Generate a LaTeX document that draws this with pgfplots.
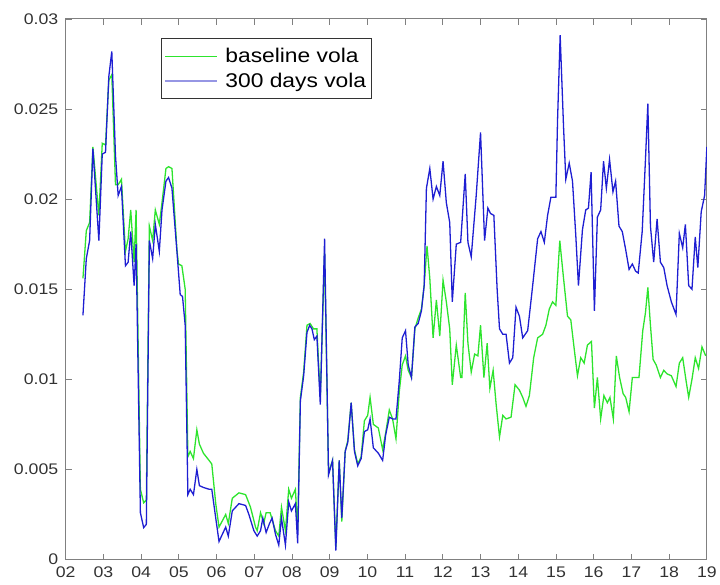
\documentclass[border=0pt]{standalone}
\usepackage{fontspec}
\setmainfont{Liberation Sans}[FakeStretch=1.15]
\usepackage{pgfplots}
\usepackage{pgfplotstable}
\pgfplotsset{compat=1.18}

\definecolor{volagreen}{RGB}{45,228,45}
\definecolor{volablue}{RGB}{30,30,210}
\definecolor{volabluelegend}{RGB}{150,150,228}
\definecolor{framegray}{RGB}{128,128,128}
\definecolor{labelgray}{RGB}{50,50,50}

% baseline volatility
\pgfplotstableread{
x y
2.457 0.0156
2.546 0.01825
2.634 0.0187
2.721 0.0229
2.879 0.0191
2.969 0.0231
3.056 0.0230
3.143 0.0266
3.222 0.0269
3.320 0.0208
3.391 0.0208
3.478 0.0211
3.584 0.0171
3.655 0.0178
3.724 0.0194
3.814 0.0165
3.866 0.0194
3.980 0.0039
4.067 0.00315
4.138 0.0033
4.218 0.0185
4.305 0.0177
4.376 0.0194
4.482 0.0186
4.553 0.0198
4.658 0.0217
4.727 0.0218
4.817 0.0217
4.949 0.0172
4.990 0.0164
5.080 0.0163
5.168 0.0150
5.239 0.0057
5.300 0.0060
5.387 0.0056
5.477 0.0072
5.545 0.0064
5.651 0.0059
5.801 0.0055
5.873 0.0053
5.978 0.0031
6.065 0.0018
6.242 0.0025
6.311 0.0020
6.417 0.0034
6.593 0.0037
6.770 0.0036
6.900 0.0029
7.033 0.0018
7.077 0.0016
7.166 0.0026
7.250 0.0020
7.314 0.0026
7.420 0.0026
7.562 0.0016
7.649 0.0013
7.721 0.0029
7.826 0.0016
7.913 0.0039
7.985 0.0034
8.090 0.0039
8.151 0.0016
8.222 0.0090
8.309 0.0104
8.397 0.0130
8.480 0.0131
8.570 0.0128
8.660 0.0128
8.750 0.0090
8.864 0.0170
8.969 0.0048
9.075 0.0055
9.162 0.0007
9.252 0.0055
9.320 0.0021
9.410 0.0060
9.479 0.0066
9.569 0.0087
9.656 0.0061
9.743 0.0053
9.833 0.0057
9.920 0.0077
10.007 0.0080
10.070 0.0090
10.157 0.0075
10.289 0.0073
10.403 0.0061
10.482 0.0070
10.580 0.0083
10.667 0.0078
10.757 0.0067
10.844 0.0093
10.923 0.0108
11.010 0.0113
11.081 0.0105
11.168 0.0101
11.258 0.0128
11.345 0.0134
11.432 0.0139
11.504 0.0152
11.580 0.0174
11.654 0.0156
11.741 0.0123
11.828 0.0144
11.918 0.0124
12.005 0.0155
12.092 0.0143
12.182 0.0128
12.250 0.0097
12.356 0.0119
12.472 0.0101
12.506 0.0101
12.593 0.0148
12.665 0.0120
12.752 0.0104
12.842 0.0114
12.929 0.0113
12.999 0.0130
13.088 0.0101
13.175 0.0120
13.246 0.0095
13.333 0.0105
13.413 0.0086
13.502 0.0068
13.589 0.0080
13.676 0.0078
13.808 0.0079
13.914 0.0097
14.030 0.0094
14.117 0.0090
14.204 0.0085
14.294 0.0091
14.408 0.0112
14.513 0.0123
14.645 0.0125
14.732 0.0130
14.822 0.0139
14.909 0.0143
14.996 0.0141
15.100 0.0177
15.200 0.0156
15.305 0.0135
15.392 0.0133
15.482 0.0117
15.569 0.0102
15.656 0.0112
15.746 0.0109
15.833 0.0119
15.940 0.0121
16.018 0.0084
16.097 0.0101
16.184 0.0078
16.270 0.0091
16.361 0.0087
16.430 0.0090
16.520 0.0078
16.599 0.0113
16.686 0.0101
16.780 0.0092
16.847 0.0090
16.937 0.0082
17.024 0.0101
17.111 0.0101
17.200 0.0101
17.300 0.0127
17.372 0.0137
17.435 0.0151
17.504 0.0130
17.575 0.0111
17.655 0.0108
17.768 0.0101
17.857 0.0105
17.945 0.0103
18.058 0.0102
18.182 0.0096
18.270 0.0109
18.359 0.0112
18.450 0.0099
18.518 0.0090
18.605 0.0100
18.692 0.0112
18.780 0.0106
18.870 0.0118
18.970 0.0113
}\baselinevola

% volatility over a 300-day window
\pgfplotstableread{
x y
2.457 0.01355
2.546 0.0167
2.634 0.0177
2.721 0.0228
2.879 0.0177
2.969 0.0225
3.056 0.0226
3.143 0.0268
3.222 0.0282
3.320 0.0224
3.391 0.0202
3.478 0.0207
3.584 0.0163
3.655 0.0165
3.724 0.0182
3.814 0.0152
3.866 0.0175
3.980 0.0026
4.067 0.00177
4.138 0.00195
4.218 0.0177
4.305 0.0167
4.376 0.0186
4.482 0.0171
4.553 0.0194
4.658 0.0210
4.727 0.0212
4.817 0.0206
4.949 0.0171
5.036 0.0147
5.097 0.0146
5.168 0.0130
5.239 0.0036
5.300 0.0039
5.387 0.0036
5.477 0.0050
5.545 0.0041
5.651 0.0040
5.801 0.0039
5.873 0.0039
5.978 0.0023
6.065 0.0010
6.153 0.0014
6.242 0.0018
6.311 0.0013
6.417 0.0027
6.593 0.0031
6.770 0.0030
6.857 0.0025
6.989 0.0016
7.077 0.0013
7.166 0.0016
7.227 0.0023
7.314 0.0015
7.404 0.0020
7.473 0.0023
7.562 0.0014
7.649 0.0008
7.721 0.0023
7.826 0.0008
7.913 0.0032
7.985 0.0027
8.090 0.0031
8.151 0.0009
8.222 0.0088
8.309 0.0102
8.397 0.0126
8.468 0.0130
8.529 0.0128
8.592 0.0122
8.660 0.0124
8.750 0.0086
8.864 0.0178
8.969 0.0047
9.075 0.0055
9.162 0.0005
9.252 0.0055
9.320 0.0023
9.410 0.0060
9.479 0.0065
9.569 0.0087
9.656 0.0060
9.743 0.0052
9.833 0.0056
9.920 0.0071
10.007 0.0072
10.070 0.0078
10.157 0.0062
10.289 0.0059
10.403 0.0055
10.482 0.0069
10.580 0.0079
10.667 0.0078
10.757 0.0078
10.844 0.0099
10.923 0.0123
11.010 0.0127
11.081 0.0108
11.168 0.0101
11.258 0.0129
11.345 0.0131
11.432 0.0138
11.504 0.0152
11.564 0.0206
11.654 0.0217
11.741 0.0200
11.828 0.0207
11.918 0.0202
12.005 0.0221
12.092 0.0198
12.182 0.0187
12.250 0.0143
12.356 0.0175
12.472 0.0176
12.593 0.0214
12.665 0.0176
12.752 0.0168
12.884 0.0202
12.999 0.0237
13.106 0.0177
13.193 0.0195
13.264 0.0192
13.352 0.0191
13.439 0.0150
13.502 0.0128
13.589 0.0125
13.676 0.0125
13.766 0.0109
13.853 0.0112
13.940 0.0140
14.030 0.0135
14.117 0.0123
14.249 0.0127
14.381 0.0152
14.513 0.0178
14.601 0.0182
14.690 0.0176
14.777 0.0191
14.864 0.0201
14.996 0.0201
15.041 0.0244
15.110 0.0291
15.200 0.0240
15.260 0.0211
15.350 0.0220
15.437 0.0210
15.524 0.0180
15.595 0.0152
15.701 0.0183
15.788 0.0194
15.860 0.0195
15.930 0.0215
16.018 0.0138
16.097 0.0190
16.184 0.0194
16.260 0.0221
16.335 0.0206
16.420 0.0222
16.510 0.0204
16.580 0.0210
16.670 0.0185
16.757 0.0182
16.847 0.0172
16.937 0.0161
17.024 0.0164
17.111 0.0160
17.180 0.0159
17.285 0.0182
17.372 0.0222
17.435 0.0253
17.504 0.0185
17.590 0.0165
17.680 0.0189
17.768 0.0165
17.857 0.0162
17.945 0.0152
18.058 0.0143
18.182 0.0136
18.270 0.0181
18.359 0.0173
18.430 0.0186
18.518 0.0152
18.605 0.0150
18.692 0.0179
18.760 0.0162
18.850 0.0193
18.940 0.0202
19.000 0.0229
}\longvola

\begin{document}
\begin{tikzpicture}
\begin{axis}[
  scale only axis,
  width=644bp, height=543bp,
  xmin=2, xmax=19, ymin=0, ymax=0.03,
  xtick={2,3,...,19},
  xticklabels={02,03,04,05,06,07,08,09,10,11,12,13,14,15,16,17,18,19},
  ytick={0,0.005,0.01,0.015,0.02,0.025,0.03},
  yticklabels={0,0.005,0.01,0.015,0.02,0.025,0.03},
  scaled y ticks=false,
  tick align=inside,
  major tick length=6bp,
  axis line style={framegray, line width=0.9bp},
  tick style={framegray, line width=0.8bp},
  ticklabel style={font=\fontsize{15.5}{17}\selectfont, text=labelgray},
  xticklabel style={yshift=-4bp},
  yticklabel style={xshift=-4bp},
  /pgf/number format/assume math mode=true,
  legend style={
    at={(0.149,0.965)}, anchor=north west,
    draw=black!80, line width=0.9bp, fill=white,
    font=\fontsize{20}{22}\selectfont,
    inner xsep=3bp, inner ysep=8bp,
    row sep=5bp,
    nodes={inner sep=2bp},
  },
  legend cell align=left,
  legend image code/.code={%
    \draw[#1, line width=1.1bp] (-4bp,0bp) -- (48bp,0bp);
    \path (54bp,0bp);},
]
\addplot[volagreen, line width=1.3bp, forget plot] table[x=x, y=y] {\baselinevola};
\addplot[volablue, line width=1.3bp, forget plot] table[x=x, y=y] {\longvola};
\addlegendimage{volagreen}
\addlegendentry{baseline vola\hspace{14bp}}
\addlegendimage{volabluelegend}
\addlegendentry{300 days vola\hspace{14bp}}
\end{axis}
\path ([xshift=-66bp, yshift=-25bp]current axis.south west)
  rectangle ([xshift=10bp, yshift=19bp]current axis.north east);
\end{tikzpicture}
\end{document}
